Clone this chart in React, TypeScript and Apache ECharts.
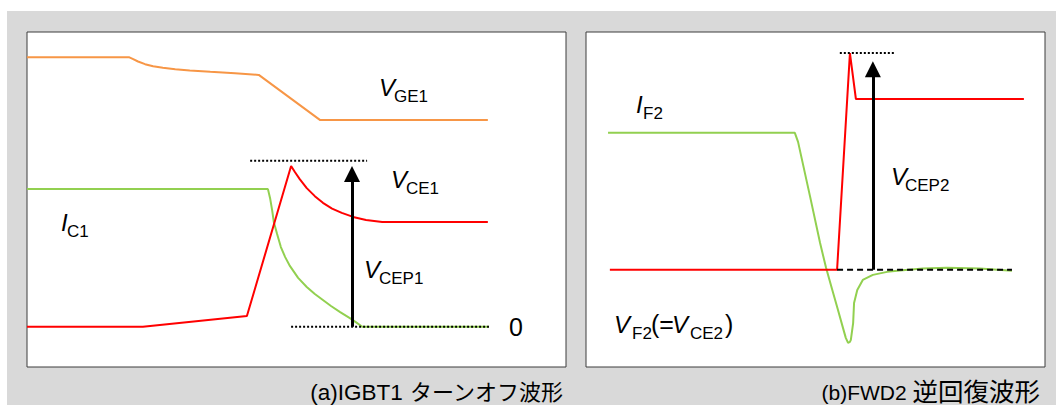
import { useEffect, useRef } from "react";
import * as echarts from "echarts";

const FONT = '"Liberation Sans", Arial, "Noto Sans CJK JP", sans-serif';

// (a) IGBT1 turn-off. Time in % of the window, level in % of the panel height,
// zero at the collector-current baseline.
const vge1 = [
  [0, 80.5], [18.9, 80.5], [19.7, 79.9], [20.6, 79.2], [21.9, 78.4], [23.4, 77.8],
  [25.2, 77.3], [27.5, 76.9], [30.2, 76.5], [34.0, 76.1], [38.6, 75.7], [43.0, 75.2],
  [54.4, 61.7], [85.5, 61.7],
];
const ic1 = [
  [0, 41.1], [44.7, 41.1], [45.1, 38.4], [45.5, 34.6], [45.8, 31.2], [46.4, 27.7],
  [47.1, 23.8], [47.9, 20.8], [48.8, 18.1], [50.3, 14.6], [51.9, 11.9], [53.4, 9.8],
  [54.9, 8.0], [56.4, 6.2], [58.1, 4.4], [59.9, 2.6], [61.0, 1.4], [62.2, 0], [85.7, 0],
];
const vce1 = [
  [0, 0], [21.5, 0], [40.8, 3.2], [49.0, 48.0], [49.7, 46.2], [50.6, 44.1], [51.9, 41.4],
  [53.4, 39.0], [54.9, 37.0], [56.6, 35.3], [58.4, 34.0], [60.5, 32.8], [62.9, 31.9],
  [65.9, 31.3], [85.5, 31.3],
];
const vcep1Level = 49.6;
const vcep1Span = [41.4, 63.1];
const zero1Span = [49.0, 85.7];
const arrow1 = { t: 60.3, from: 0, to: 48.0 };

// (b) FWD2 reverse recovery, zero at the diode-voltage baseline.
const if2 = [
  [4.8, 40.9], [45.5, 40.9], [46.2, 38.2], [48.8, 22.0], [51.0, 8.0], [52.3, 0.6],
  [53.6, -5.7], [54.9, -12.0], [56.0, -17.4], [56.6, -20.3], [57.1, -21.8], [57.5, -21.5],
  [57.7, -20.9], [58.2, -15.9], [58.4, -9.9], [59.1, -6.0], [60.3, -3.0], [62.5, -1.5],
  [65.6, -0.6], [68.4, -0.2], [73.4, 0.4], [78.6, 0.6], [85.8, 0.4], [92.8, -0.3],
];
const vf2 = [
  [5.2, 0], [54.7, 0], [57.5, 64.7], [58.8, 51.0], [95.4, 51.0],
];
const vcep2Level = 64.7;
const vcep2Span = [55.3, 67.5];
const zero2Span = [54.7, 92.8];
const arrow2 = { t: 62.5, from: 0, to: 62.3 };

const ORANGE = "#f79646";
const GREEN = "#92d050";
const RED = "#ff0000";

const HEAD = 16;

function arrowSeries(a: { t: number; from: number; to: number }, idx: number, pxPerUnit: number) {
  const end = a.to - HEAD / 2 / pxPerUnit;
  return {
    type: "lines",
    coordinateSystem: "cartesian2d",
    xAxisIndex: idx,
    yAxisIndex: idx,
    symbol: ["none", "triangle"],
    symbolSize: HEAD,
    silent: true,
    z: 5,
    lineStyle: { color: "#000", width: 3, opacity: 1 },
    itemStyle: { color: "#000" },
    data: [{ coords: [[a.t, a.from], [a.t, end]] }],
  };
}

function plainLine(data: number[][], color: string, idx: number, z = 3, type: any = "solid", width = 2) {
  return {
    type: "line",
    xAxisIndex: idx,
    yAxisIndex: idx,
    data,
    symbol: "none",
    silent: true,
    z,
    lineStyle: { color, width, type },
  };
}

function subLabel(x: number, base: number, main: string, sub: string, subX: number, mainSize = 24, subSize = 17) {
  return [
    {
      type: "text",
      x,
      y: base - 0.358 * mainSize,
      style: { text: main, fontSize: mainSize, fontStyle: "italic", fontFamily: FONT, fill: "#000", verticalAlign: "middle" },
    },
    {
      type: "text",
      x: subX,
      y: base + 6.5 - 0.358 * subSize,
      style: { text: sub, fontSize: subSize, fontFamily: FONT, fill: "#000", verticalAlign: "middle" },
    },
  ];
}

function plainText(x: number, base: number, text: string, size: number, align = "left") {
  return {
    type: "text",
    x,
    y: base - 0.358 * size,
    style: { text, fontSize: size, fontFamily: FONT, fill: "#000", verticalAlign: "middle", align },
  };
}

function caption(x: number, y: number, latin: string, cjk: string, latinSize: number, cjkSize: number) {
  return {
    type: "text",
    x,
    y,
    style: {
      text: `{a|${latin}}{b|${cjk}}`,
      align: "right",
      verticalAlign: "middle",
      fill: "#000",
      rich: {
        a: { fontSize: latinSize, fontFamily: FONT, fill: "#000", verticalAlign: "middle" },
        b: { fontSize: cjkSize, fontFamily: FONT, fill: "#000", verticalAlign: "middle" },
      },
    },
  };
}

export default function App() {
  const ref = useRef<HTMLDivElement>(null);

  useEffect(() => {
    if (!ref.current) return;
    const chart = echarts.init(ref.current, undefined, { renderer: "svg" });
    const panelY = 100 / 335;
    chart.setOption({
      animation: false,
      grid: [
        { left: 27, top: 32, width: 539, height: 335, show: true, backgroundColor: "#fff", borderColor: "#3c3c3c", borderWidth: 1 },
        { left: 586, top: 32, width: 459, height: 335, show: true, backgroundColor: "#fff", borderColor: "#3c3c3c", borderWidth: 1 },
      ],
      xAxis: [
        { type: "value", gridIndex: 0, min: 0, max: 100, show: false },
        { type: "value", gridIndex: 1, min: 0, max: 100, show: false },
      ],
      yAxis: [
        { type: "value", gridIndex: 0, min: -12, max: 88, show: false },
        { type: "value", gridIndex: 1, min: -29, max: 71, show: false },
      ],
      series: [
        plainLine(vge1, ORANGE, 0),
        plainLine(ic1, GREEN, 0),
        plainLine(vce1, RED, 0),
        plainLine([[vcep1Span[0], vcep1Level], [vcep1Span[1], vcep1Level]], "#000", 0, 4, [2, 2], 2),
        plainLine([[zero1Span[0], 0], [zero1Span[1], 0]], "#000", 0, 4, [2, 2], 2),
        arrowSeries(arrow1, 0, 1 / panelY),
        plainLine(if2, GREEN, 1),
        plainLine(vf2, RED, 1),
        plainLine([[vcep2Span[0], vcep2Level], [vcep2Span[1], vcep2Level]], "#000", 1, 4, [2, 2], 2),
        plainLine([[zero2Span[0], 0], [zero2Span[1], 0]], "#000", 1, 4, [6, 4], 2),
        arrowSeries(arrow2, 1, 1 / panelY),
      ],
      graphic: [
        ...subLabel(379, 96, "V", "GE1", 394),
        ...subLabel(391, 188, "V", "CE1", 406),
        ...subLabel(364, 278, "V", "CEP1", 379),
        ...subLabel(61, 231, "I", "C1", 67),
        plainText(509, 336, "0", 25),
        ...subLabel(636, 113, "I", "F2", 643),
        ...subLabel(891, 185, "V", "CEP2", 905),
        ...subLabel(614, 333, "V", "F2", 632),
        plainText(651, 333, "(=", 25),
        ...subLabel(672, 333, "V", "CE2", 690),
        plainText(725, 333, ")", 25),
        caption(563, 392, "(a)IGBT1 ", "ターンオフ波形", 22.5, 22),
        caption(1040, 392, "(b)FWD2 ", "逆回復波形", 21, 25.5),
      ],
    });
    return () => chart.dispose();
  }, []);

  return (
    <div style={{ position: "fixed", left: 0, top: 0, width: 1056, height: 405, background: "#fff" }}>
      <div style={{ position: "absolute", left: 7, top: 11, width: 1049, height: 394, background: "#d9d9d9" }} />
      <div ref={ref} style={{ position: "absolute", left: 0, top: 0, width: 1056, height: 405 }} />
    </div>
  );
}
